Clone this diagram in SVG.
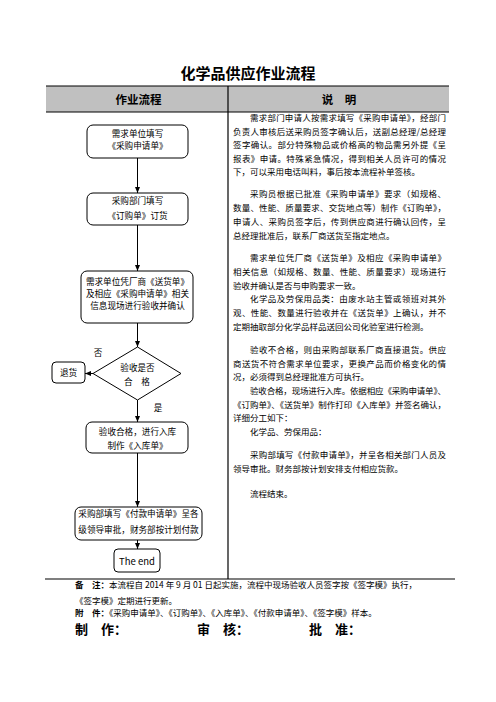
<svg xmlns="http://www.w3.org/2000/svg" width="496" height="702" viewBox="0 0 496 702">
<style>
text{font-family:'Noto Sans CJK SC','Noto Sans',sans-serif;fill:#000}
.t{font-size:8.5px}
.n{font-size:8.6px;text-anchor:middle}
.h{font-weight:700}
.box{fill:#fff;stroke:#000;stroke-width:1}
.ln{fill:none;stroke:#000;stroke-width:1}
.rule{stroke:#000;stroke-width:1.2}
</style>
<defs>
<marker id="ah" markerUnits="userSpaceOnUse" markerWidth="6" markerHeight="5" refX="6" refY="2.5" orient="auto">
<path d="M0,0 L6,2.5 L0,5 z" fill="#000"/>
</marker>
</defs>
<rect width="496" height="702" fill="#fff"/>
<text x="248" y="78.5" class="h" font-size="15" text-anchor="middle">化学品供应作业流程</text>
<g id="table">
<rect x="46" y="86" width="403" height="26" fill="#c0c0c0"/>
<line x1="46" y1="86" x2="449" y2="86" class="rule" stroke-width="1.5"/>
<line x1="46" y1="112" x2="449" y2="112" class="rule"/>
<line x1="228" y1="86" x2="228" y2="579" class="rule"/>
<line x1="45" y1="579" x2="455" y2="579" class="rule"/>
<text x="138.5" y="104" class="h" font-size="11.5" text-anchor="middle">作业流程</text>
<text x="339" y="104" class="h" font-size="11.5" text-anchor="middle">说　明</text>
</g>
<g id="desc" class="t">
<text x="250" y="121.2" textLength="196" lengthAdjust="spacing">需求部门申请人按需求填写《采购申请单》，经部门</text>
<text x="233" y="134.7" textLength="213" lengthAdjust="spacing">负责人审核后送采购员签字确认后，送副总经理/总经理</text>
<text x="233" y="148.2" textLength="213" lengthAdjust="spacing">签字确认。部分特殊物品或价格高的物品需另外提《呈</text>
<text x="233" y="161.7" textLength="213" lengthAdjust="spacing">报表》申请。特殊紧急情况，得到相关人员许可的情况</text>
<text x="233" y="175.2">下，可以采用电话叫料，事后按本流程补单签核。</text>
<text x="250" y="197.2" textLength="196" lengthAdjust="spacing">采购员根据已批准《采购申请单》要求（如规格、</text>
<text x="233" y="211.2" textLength="213" lengthAdjust="spacing">数量、性能、质量要求、交货地点等）制作《订购单》，</text>
<text x="233" y="225" textLength="213" lengthAdjust="spacing">申请人、采购员签字后，传到供应商进行确认回传，呈</text>
<text x="233" y="238.7">总经理批准后，联系厂商送货至指定地点。</text>
<text x="250" y="261.2" textLength="196" lengthAdjust="spacing">需求单位凭厂商《送货单》及相应《采购申请单》</text>
<text x="233" y="275" textLength="213" lengthAdjust="spacing">相关信息（如规格、数量、性能、质量要求）现场进行</text>
<text x="233" y="288.7">验收并确认是否与申购要求一致。</text>
<text x="250" y="302.2" textLength="196" lengthAdjust="spacing">化学品及劳保用品类：由废水站主管或领班对其外</text>
<text x="233" y="316" textLength="213" lengthAdjust="spacing">观、性能、数量进行验收并在《送货单》上确认，并不</text>
<text x="233" y="329.7">定期抽取部分化学品样品送回公司化验室进行检测。</text>
<text x="250" y="353.2" textLength="196" lengthAdjust="spacing">验收不合格，则由采购部联系厂商直接退货。供应</text>
<text x="233" y="366.7" textLength="213" lengthAdjust="spacing">商送货不符合需求单位要求，更换产品而价格变化的情</text>
<text x="233" y="380.2">况，必须得到总经理批准方可执行。</text>
<text x="250" y="394.2" textLength="196" lengthAdjust="spacing">验收合格，现场进行入库。依据相应《采购申请单》、</text>
<text x="233" y="407.7" textLength="213" lengthAdjust="spacing">《订购单》、《送货单》制作打印《入库单》并签名确认，</text>
<text x="233" y="421.2">详细分工如下：</text>
<text x="250" y="434.7">化学品、劳保用品：</text>
<text x="250" y="458.2" textLength="196" lengthAdjust="spacing">采购部填写《付款申请单》，并呈各相关部门人员及</text>
<text x="233" y="471.7">领导审批。财务部按计划安排支付相应货款。</text>
<text x="250" y="497.2">流程结束。</text>
</g>
<g id="connectors" class="ln">
<line x1="137.5" y1="158" x2="137.5" y2="193" marker-end="url(#ah)"/>
<line x1="137.5" y1="225" x2="137.5" y2="271" marker-end="url(#ah)"/>
<line x1="137.5" y1="323" x2="137.5" y2="347" marker-end="url(#ah)"/>
<line x1="93" y1="373.5" x2="85" y2="373.5" marker-end="url(#ah)"/>
<line x1="137.5" y1="400" x2="137.5" y2="422" marker-end="url(#ah)"/>
<line x1="137.5" y1="453" x2="137.5" y2="507" marker-end="url(#ah)"/>
<line x1="137.5" y1="540" x2="137.5" y2="549" marker-end="url(#ah)"/>
</g>
<g id="n1">
<rect x="87" y="125" width="101" height="33" rx="6" class="box"/>
<text x="137.5" y="137.2" class="n">需求单位填写</text>
<text x="137.5" y="149.2" class="n">《采购申请单》</text>
</g>
<g id="n2">
<rect x="87" y="193" width="101" height="32" rx="6" class="box"/>
<text x="137.5" y="204" class="n">采购部门填写</text>
<text x="137.5" y="219.2" class="n">《订购单》订货</text>
</g>
<g id="n3">
<rect x="81" y="271" width="112" height="52" rx="6" class="box"/>
<text x="137.5" y="284.9" class="n">需求单位凭厂商《送货单》</text>
<text x="137.5" y="296.5" class="n">及相应《采购申请单》相关</text>
<text x="137.5" y="309.2" class="n">信息现场进行验收并确认</text>
</g>
<g id="n4">
<polygon points="137.5,347 181,373.5 137.5,400 93,373.5" class="box"/>
<text x="137.5" y="371.2" class="n">验收是否</text>
<text x="137" y="385.2" class="n">合　格</text>
</g>
<g id="n5">
<rect x="52" y="362" width="33" height="21" rx="4" class="box"/>
<text x="68.5" y="376.2" class="n">退货</text>
</g>
<g id="labels" class="n">
<text x="98" y="356.2">否</text>
<text x="158" y="411.2">是</text>
</g>
<g id="n6">
<rect x="86" y="422" width="102" height="31" rx="6" class="box"/>
<text x="137.5" y="435.2" class="n">验收合格，进行入库</text>
<text x="137.5" y="449.2" class="n">制作《入库单》</text>
</g>
<g id="n7">
<rect x="75" y="507" width="127" height="33" rx="6" class="box"/>
<text x="138.5" y="517.2" class="n">采购部填写《付款申请单》呈各</text>
<text x="138.5" y="533.2" class="n">级领导审批，财务部按计划付款</text>
</g>
<g id="n8">
<rect x="114" y="549" width="46" height="23" rx="4" class="box"/>
<text x="137" y="564.5" font-family="'Liberation Sans',Arial,sans-serif" font-size="9.5" text-anchor="middle">The end</text>
</g>
<g id="notes" class="t">
<text x="75" y="588.2"><tspan class="h">备　注：</tspan>本流程自 2014 年 9 月 01 日起实施，流程中现场验收人员签字按《签字模》执行，</text>
<text x="75" y="603.7">《签字模》定期进行更新。</text>
<text x="75" y="616.2"><tspan class="h">附　件：</tspan>《采购申请单》、《订购单》、《入库单》、《付款申请单》、《签字模》样本。</text>
</g>
<g id="sign" class="h" font-size="13">
<text x="75" y="633.5">制　作：</text>
<text x="197" y="633.5">审　核：</text>
<text x="309" y="633.5">批　准：</text>
</g>
</svg>
